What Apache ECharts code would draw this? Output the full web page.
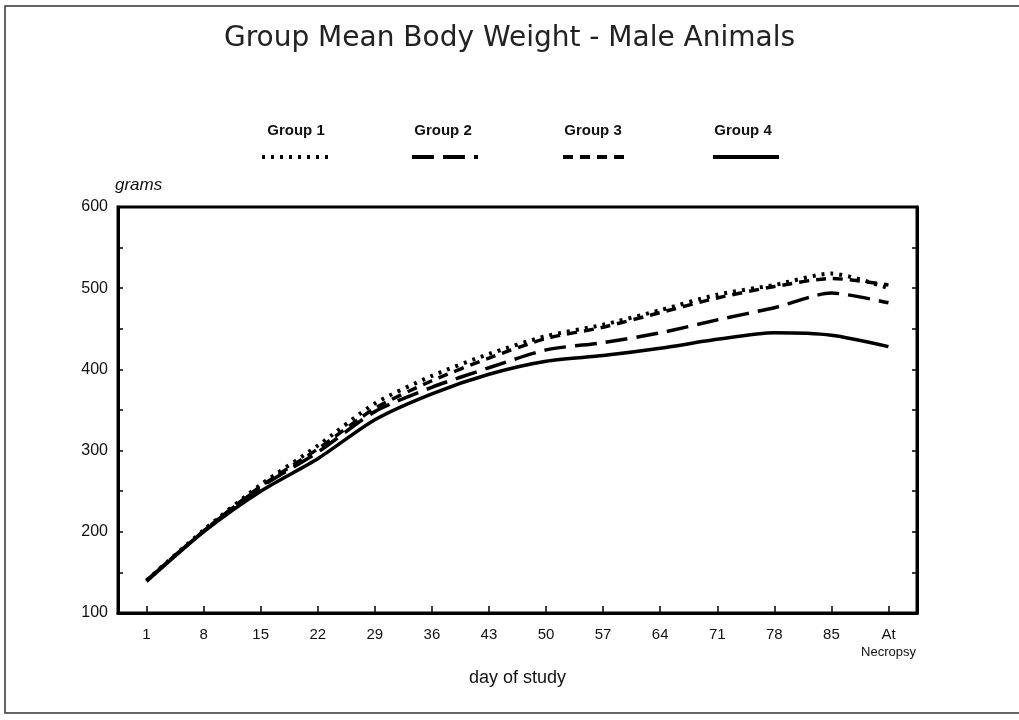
<!DOCTYPE html>
<html>
<head>
<meta charset="utf-8">
<script src="https://cdn.jsdelivr.net/npm/echarts@6/dist/echarts.min.js"></script>
<style>
html,body{margin:0;padding:0;background:#fff;}
#chart{width:1019px;height:720px;}
</style>
</head>
<body>
<div id="chart"></div>
<script>
const categories = ['1','8','15','22','29','36','43','50','57','64','71','78','85','At\nNecropsy'];
const group1 = [140, 202, 258, 306, 358, 392, 419, 441, 455, 473, 492, 504, 518, 500];
const group2 = [140, 201, 255, 298, 348, 378, 402, 424, 433, 445, 461, 476, 494, 482];
const group3 = [140, 201, 256, 302, 352, 386, 414, 438, 452, 470, 488, 502, 512, 504];
const group4 = [139, 200, 250, 290, 338, 370, 394, 410, 417, 426, 437, 445, 442, 428];
const seriesNames = ['Group 1', 'Group 2', 'Group 3', 'Group 4'];
const yTicks = { min: 100, max: 600, step: 50, labelStep: 100 };

const chart = echarts.init(document.getElementById('chart'), null, { renderer: 'canvas' });

const styles = [
  { type: [3, 6], width: 4 },
  { type: [22, 9], width: 3.5 },
  { type: [10, 7], width: 3.5 },
  { type: 'solid', width: 3.5 }
];
const dataSets = [group1, group2, group3, group4];
const legendLefts = [255, 405, 556, 706];
const labelCenters = [296, 443, 593, 743];

const series = seriesNames.map((n, i) => ({
  name: n,
  type: 'line',
  data: dataSets[i],
  symbol: 'none',
  smooth: 0.25,
  lineStyle: { color: '#000', width: styles[i].width, type: styles[i].type, cap: 'butt' },
  itemStyle: { color: '#000' },
  z: 10 - i
}));

const legends = seriesNames.map((n, i) => ({
  data: [n],
  left: legendLefts[i],
  top: 145,
  itemWidth: 66,
  itemHeight: 14,
  formatter: () => '',
  selectedMode: false,
  itemStyle: { opacity: 0, borderWidth: 0 },
  lineStyle: { width: 4 },
  textStyle: { fontSize: 1 }
}));

const option = {
  backgroundColor: '#fff',
  animation: false,
  title: {
    text: 'Group Mean Body Weight - Male Animals',
    left: 'center',
    top: 20,
    textStyle: { fontFamily: 'DejaVu Sans', fontSize: 28, fontWeight: 'normal', color: '#222' }
  },
  legend: legends,
  grid: { left: 118, right: 102, top: 207, bottom: 107, show: true, borderColor: '#000', borderWidth: 3 },
  xAxis: {
    type: 'category',
    data: categories,
    boundaryGap: true,
    name: 'day of study',
    nameLocation: 'middle',
    nameGap: 56,
    nameTextStyle: { fontFamily: 'Liberation Sans', fontSize: 18, color: '#111' },
    axisLine: { show: true, lineStyle: { color: '#000', width: 3 } },
    axisTick: { show: true, inside: true, length: 7, alignWithLabel: true, lineStyle: { color: '#000', width: 1.5 } },
    axisLabel: {
      margin: 14,
      interval: 0,
      color: '#111',
      fontFamily: 'Liberation Sans',
      fontSize: 15,
      formatter: (v) => {
        if (v.indexOf('\n') >= 0) {
          const p = v.split('\n');
          return p[0] + '\n{s|' + p[1] + '}';
        }
        return v;
      },
      rich: { s: { fontSize: 13, fontFamily: 'Liberation Sans', color: '#111', padding: [4, 0, 0, 0] } }
    },
    splitLine: { show: false }
  },
  yAxis: [{
    type: 'value',
    min: yTicks.min,
    max: yTicks.max,
    interval: yTicks.step,
    position: 'left',
    axisLine: { show: true, lineStyle: { color: '#000', width: 3 } },
    axisTick: { show: true, inside: true, length: 5, lineStyle: { color: '#000', width: 1.5 } },
    axisLabel: {
      margin: 10,
      color: '#111',
      fontFamily: 'Liberation Sans',
      fontSize: 16,
      formatter: (v) => (v % yTicks.labelStep === 0 ? String(v) : '')
    },
    splitLine: { show: false }
  }, {
    type: 'value',
    min: yTicks.min,
    max: yTicks.max,
    interval: yTicks.step,
    position: 'right',
    axisLine: { show: true, lineStyle: { color: '#000', width: 3 } },
    axisTick: { show: true, inside: true, length: 5, lineStyle: { color: '#000', width: 1.5 } },
    axisLabel: { show: false },
    splitLine: { show: false }
  }],
  graphic: [
    { type: 'rect', shape: { x: 5, y: 6, width: 1030, height: 707 }, style: { fill: null, stroke: '#333', lineWidth: 1.5 }, silent: true },
    { type: 'text', left: 115, top: 177, style: { text: 'grams', font: 'italic 17px "Liberation Sans"', fill: '#111' } }
  ].concat(seriesNames.map((n, i) => ({
    type: 'text',
    x: labelCenters[i],
    y: 123,
    style: { text: n, font: 'bold 15px "Liberation Sans"', fill: '#111', textAlign: 'center' }
  }))),
  series: series
};
chart.setOption(option);
</script>
</body>
</html>
